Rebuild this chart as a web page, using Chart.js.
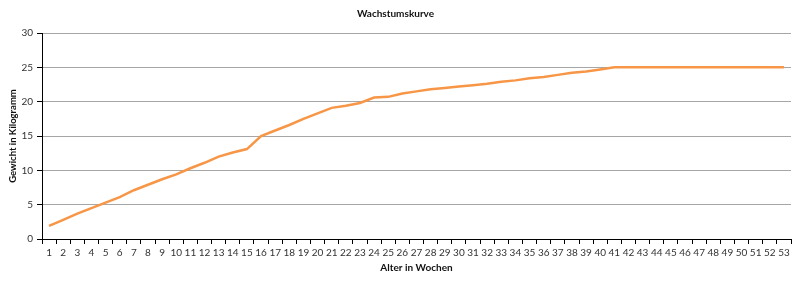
<!DOCTYPE html>
<html>
<head>
<meta charset="utf-8">
<script src="https://cdn.jsdelivr.net/npm/chart.js@4/dist/chart.umd.min.js"></script>
<style>
  html, body { margin: 0; padding: 0; background: #fff; }
  #wrap { width: 800px; height: 283px; position: relative; }
</style>
</head>
<body>
<div id="wrap"><canvas id="c" width="800" height="283"></canvas></div>
<script>
const chartTitle = "Wachstumskurve";
const xTitle = "Alter in Wochen";
const yTitle = "Gewicht in Kilogramm";
const weeks = [];
for (let i = 1; i <= 53; i++) weeks.push(String(i));
const weights = [
  1.9, 2.8, 3.7, 4.5, 5.3, 6.1, 7.1, 7.9, 8.7, 9.4,
  10.3, 11.1, 12.0, 12.6, 13.1, 15.0, 15.8, 16.6, 17.5, 18.3,
  19.1, 19.4, 19.8, 20.6, 20.7, 21.2, 21.5, 21.8, 22.0, 22.2,
  22.4, 22.6, 22.9, 23.1, 23.4, 23.6, 23.9, 24.2, 24.4, 24.7,
  25.0, 25.0, 25.0, 25.0, 25.0, 25.0, 25.0, 25.0, 25.0, 25.0,
  25.0, 25.0, 25.0
];
const yTicks = [0, 5, 10, 15, 20, 25, 30];

const FONT = "Lato, 'Liberation Sans', sans-serif";
const textColor = "#333333";

new Chart(document.getElementById('c'), {
  type: 'line',
  data: {
    labels: weeks,
    datasets: [{
      data: weights,
      borderColor: '#F79646',
      backgroundColor: '#F79646',
      borderWidth: 2.5,
      pointRadius: 0,
      tension: 0,
      fill: false
    }]
  },
  options: {
    responsive: false,
    animation: false,
    devicePixelRatio: 1,
    layout: { padding: { left: 0, right: 9, top: 0, bottom: 0 } },
    plugins: {
      legend: { display: false },
      tooltip: { enabled: false },
      title: {
        display: true,
        text: chartTitle,
        color: '#111',
        font: { family: FONT, size: 10, weight: 'bold', lineHeight: 1.2 },
        padding: { top: 8, bottom: 13 }
      }
    },
    scales: {
      x: {
        type: 'category',
        offset: true,
        grid: {
          display: true,
          offset: true,
          drawOnChartArea: false,
          drawTicks: true,
          tickLength: 5,
          tickColor: '#000',
          color: '#000'
        },
        border: { display: true, color: '#000', width: 1 },
        ticks: {
          autoSkip: false,
          maxRotation: 0,
          minRotation: 0,
          padding: 3,
          color: textColor,
          font: { family: FONT, size: 10 }
        },
        title: {
          display: true,
          text: xTitle,
          color: '#111',
          font: { family: FONT, size: 10, weight: 'bold', lineHeight: 1.2 },
          padding: { top: 9, bottom: 9 }
        },
        afterFit(scale) { scale.height = 44; }
      },
      y: {
        min: 0,
        max: 30,
        afterBuildTicks(scale) { scale.ticks = yTicks.map(v => ({ value: v })); },
        grid: {
          color: '#a6a6a6',
          lineWidth: 1,
          tickColor: '#000',
          tickLength: 5,
          drawTicks: true
        },
        border: { display: true, color: '#000', width: 1 },
        ticks: {
          padding: 4,
          color: textColor,
          font: { family: FONT, size: 10 }
        },
        title: {
          display: true,
          text: yTitle,
          color: '#111',
          font: { family: FONT, size: 9.5, weight: 'bold', lineHeight: 1.2 },
          padding: { top: 7, bottom: 7 }
        },
        afterFit(scale) { scale.width = 42; }
      }
    }
  }
});
</script>
</body>
</html>
